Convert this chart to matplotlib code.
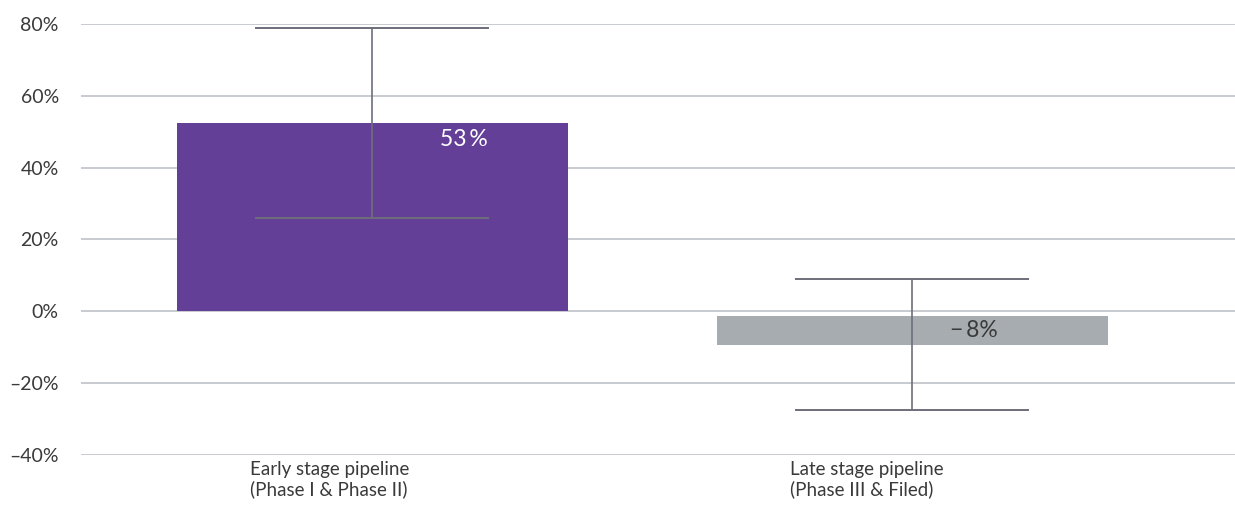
import matplotlib
matplotlib.use("Agg")
import matplotlib.pyplot as plt

plt.rcParams['font.family'] = ['Lato', 'DejaVu Sans']

# data
categories = ["Early stage pipeline\n(Phase I & Phase II)",
              "Late stage pipeline\n(Phase III & Filed)"]
bar_bottom = [0.0, -1.2]
bar_top = [52.5, -9.3]
bar_labels = ["53\u2009%", "\u2212\u20098%"]
err_low = [26.0, -27.5]
err_high = [79.0, 8.9]
y_ticks = [80, 60, 40, 20, 0, -20, -40]
y_tick_labels = ["80%", "60%", "40%", "20%", "0%", "\u201320%", "\u201340%"]

bar_colors = ["#633f97", "#a7acb1"]
label_colors = ["#ffffff", "#3a3a3a"]
label_dx = [0.17, 0.115]
label_y = [47.8, -5.3]


def main():
    fig = plt.figure(figsize=(12.35, 5.24), dpi=100)
    ax = fig.add_axes([0.0656, 0.1317, 0.9344, 0.8225])

    xs = list(range(len(categories)))
    heights = [t - b for t, b in zip(bar_top, bar_bottom)]
    ax.bar(xs, heights, bottom=bar_bottom, width=0.724, color=bar_colors, zorder=2)

    for y in y_ticks:
        ax.axhline(y, color="#c3c7cb", lw=1.3, zorder=1)

    mids = [(lo + hi) / 2 for lo, hi in zip(err_low, err_high)]
    half = [(hi - lo) / 2 for lo, hi in zip(err_low, err_high)]
    ax.errorbar(xs, mids, yerr=half, fmt="none", ecolor="#6e6e7a",
                elinewidth=1.2, capsize=84.5, capthick=1.4, zorder=3)

    for i in xs:
        ax.text(i + label_dx[i], label_y[i], bar_labels[i], color=label_colors[i],
                fontsize=16.5, ha="center", va="center", zorder=4)
        ax.text(i - 0.226, -41.6, categories[i], color="#3a3a3a", fontsize=13.5,
                ha="left", va="top", linespacing=1.15)

    ax.set_xlim(-0.539, 1.598)
    ax.set_ylim(-40, 80)
    ax.set_yticks(y_ticks)
    ax.set_yticklabels(y_tick_labels, fontsize=14, color="#3a3a3a")
    ax.tick_params(axis="y", length=0, pad=16)
    ax.set_xticks([])
    for s in ax.spines.values():
        s.set_visible(False)
    ax.patch.set_visible(False)

    fig.savefig("out.png", dpi=100)


if __name__ == "__main__":
    main()
